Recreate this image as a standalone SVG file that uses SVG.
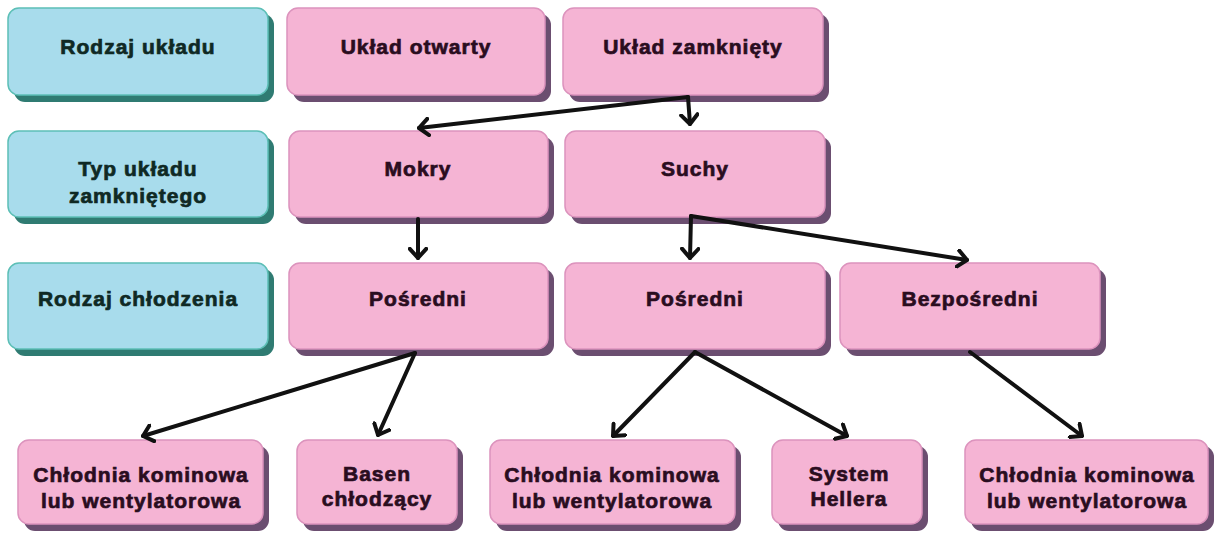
<svg xmlns="http://www.w3.org/2000/svg" width="1217" height="535" viewBox="0 0 1217 535">
<style>
.shadow{stroke:none}
.blue .shadow{fill:#2f7b72}
.blue .face{fill:#a8dcec;stroke:#5cbfb6;stroke-width:1.5}
.pink .shadow{fill:#6b4e70}
.pink .face{fill:#f5b4d4;stroke:#dc93bd;stroke-width:1.5}
.t{font-family:"Liberation Sans",Arial,sans-serif;font-weight:bold;font-size:21px;letter-spacing:1px;text-anchor:middle;stroke-width:0.7px}
.blue .t{fill:#0f2924;stroke:#0f2924}
.pink .t{fill:#2a0d1f;stroke:#2a0d1f}
.conn path{fill:none;stroke:#111;stroke-width:4;stroke-linecap:round;marker-end:url(#ah)}
</style>
<defs>
<marker id="ah" viewBox="0 0 13 20" refX="11" refY="10" markerWidth="13" markerHeight="20" markerUnits="userSpaceOnUse" orient="auto">
<path d="M1.8,1.8 L11,10 L1.8,18.2" fill="none" stroke="#111" stroke-width="4" stroke-linecap="round" stroke-linejoin="round"/>
</marker>
</defs>
<rect width="1217" height="535" fill="#ffffff"/>

<g id="n-rodzaj-ukladu" class="blue">
<rect class="shadow" x="14" y="14" width="260" height="88" rx="11"/>
<rect class="face" x="8" y="8" width="260" height="87" rx="11"/>
<text class="t" x="138" y="54">Rodzaj układu</text>
</g>
<g id="n-uklad-otwarty" class="pink">
<rect class="shadow" x="293" y="14" width="258" height="88" rx="11"/>
<rect class="face" x="287" y="8" width="258" height="87" rx="11"/>
<text class="t" x="416" y="54">Układ otwarty</text>
</g>
<g id="n-uklad-zamkniety" class="pink">
<rect class="shadow" x="569" y="14" width="260" height="88" rx="11"/>
<rect class="face" x="563" y="8" width="260" height="87" rx="11"/>
<text class="t" x="693" y="54">Układ zamknięty</text>
</g>

<g id="n-typ-ukladu" class="blue">
<rect class="shadow" x="14" y="137" width="260" height="87" rx="11"/>
<rect class="face" x="8" y="131" width="260" height="86" rx="11"/>
<text class="t" x="138" y="176">Typ układu</text>
<text class="t" x="138" y="203">zamkniętego</text>
</g>
<g id="n-mokry" class="pink">
<rect class="shadow" x="295" y="137" width="259" height="87" rx="11"/>
<rect class="face" x="289" y="131" width="259" height="86" rx="11"/>
<text class="t" x="418" y="176">Mokry</text>
</g>
<g id="n-suchy" class="pink">
<rect class="shadow" x="571" y="137" width="260" height="87" rx="11"/>
<rect class="face" x="565" y="131" width="260" height="86" rx="11"/>
<text class="t" x="695" y="176">Suchy</text>
</g>

<g id="n-rodzaj-chlodzenia" class="blue">
<rect class="shadow" x="14" y="269" width="260" height="87" rx="11"/>
<rect class="face" x="8" y="263" width="260" height="86" rx="11"/>
<text class="t" x="138" y="306">Rodzaj chłodzenia</text>
</g>
<g id="n-posredni-1" class="pink">
<rect class="shadow" x="295" y="269" width="259" height="87" rx="11"/>
<rect class="face" x="289" y="263" width="259" height="86" rx="11"/>
<text class="t" x="418" y="306">Pośredni</text>
</g>
<g id="n-posredni-2" class="pink">
<rect class="shadow" x="571" y="269" width="260" height="87" rx="11"/>
<rect class="face" x="565" y="263" width="260" height="86" rx="11"/>
<text class="t" x="695" y="306">Pośredni</text>
</g>
<g id="n-bezposredni" class="pink">
<rect class="shadow" x="846" y="269" width="260" height="87" rx="11"/>
<rect class="face" x="840" y="263" width="260" height="86" rx="11"/>
<text class="t" x="970" y="306">Bezpośredni</text>
</g>

<g id="n-chlodnia-1" class="pink">
<rect class="shadow" x="24" y="446" width="245" height="85" rx="11"/>
<rect class="face" x="18" y="440" width="245" height="84" rx="11"/>
<text class="t" x="141" y="482">Chłodnia kominowa</text>
<text class="t" x="141" y="508">lub wentylatorowa</text>
</g>
<g id="n-basen" class="pink">
<rect class="shadow" x="303" y="446" width="160" height="85" rx="11"/>
<rect class="face" x="297" y="440" width="160" height="84" rx="11"/>
<text class="t" x="377" y="481">Basen</text>
<text class="t" x="377" y="506">chłodzący</text>
</g>
<g id="n-chlodnia-2" class="pink">
<rect class="shadow" x="496" y="446" width="245" height="85" rx="11"/>
<rect class="face" x="490" y="440" width="245" height="84" rx="11"/>
<text class="t" x="612" y="482">Chłodnia kominowa</text>
<text class="t" x="612" y="508">lub wentylatorowa</text>
</g>
<g id="n-system-hellera" class="pink">
<rect class="shadow" x="778" y="446" width="150" height="85" rx="11"/>
<rect class="face" x="772" y="440" width="150" height="84" rx="11"/>
<text class="t" x="849" y="481">System</text>
<text class="t" x="849" y="506">Hellera</text>
</g>
<g id="n-chlodnia-3" class="pink">
<rect class="shadow" x="971" y="446" width="243" height="85" rx="11"/>
<rect class="face" x="965" y="440" width="243" height="84" rx="11"/>
<text class="t" x="1087" y="482">Chłodnia kominowa</text>
<text class="t" x="1087" y="508">lub wentylatorowa</text>
</g>

<g id="connectors" class="conn">
<path d="M688,97 L419,128"/>
<path d="M688,97 L690,124"/>
<path d="M418,219 L418,258"/>
<path d="M691,216 L690,258"/>
<path d="M691,216 L967,260"/>
<path d="M415,353 L143,436"/>
<path d="M415,353 L378,435"/>
<path d="M695,352 L613,436"/>
<path d="M695,352 L847,436"/>
<path d="M970,352 L1082,436"/>
</g>
</svg>
